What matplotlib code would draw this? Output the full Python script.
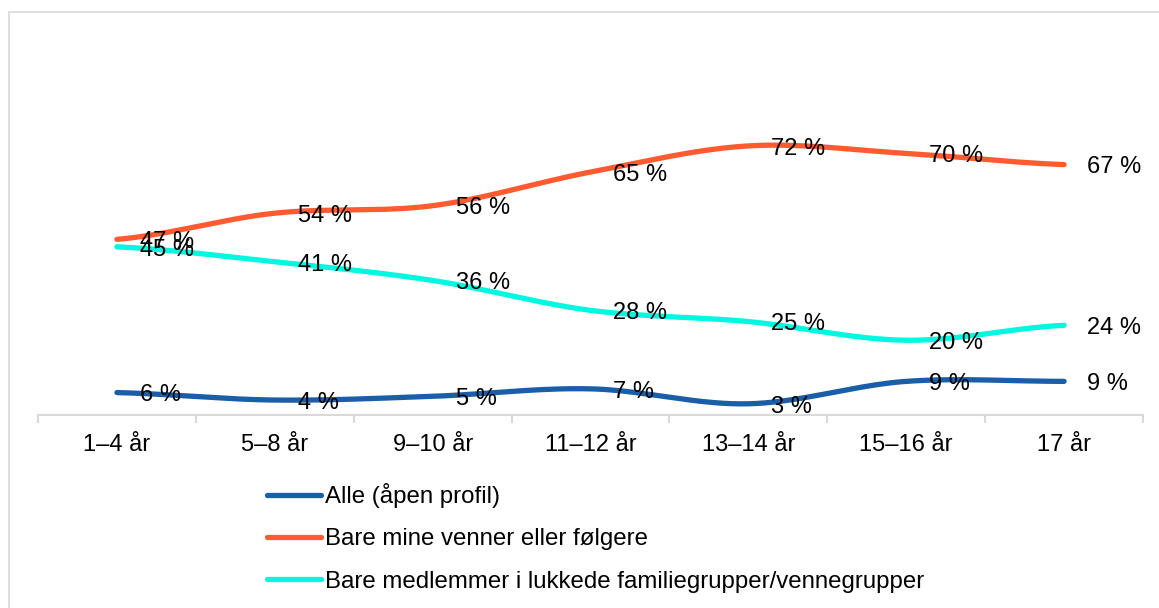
import matplotlib
matplotlib.use("Agg")
import matplotlib.pyplot as plt
import numpy as np
from matplotlib.patches import Rectangle

plt.rcParams['font.family'] = ['Liberation Sans', 'DejaVu Sans']

# Data
categories = ['1–4 år', '5–8 år', '9–10 år', '11–12 år', '13–14 år', '15–16 år', '17 år']
alle = [6, 4, 5, 7, 3, 9, 9]
venner = [47, 54, 56, 65, 72, 70, 67]
grupper = [45, 41, 36, 28, 25, 20, 24]
series_names = ['Alle (åpen profil)', 'Bare mine venner eller følgere',
                'Bare medlemmer i lukkede familiegrupper/vennegrupper']
colors = ['#1a5ea8', '#ff5a30', '#00f7e0']

W, H = 1159, 608
fs = 17
fig = plt.figure(figsize=(W / 100, H / 100), dpi=100)

# light chart border
fig.patches.append(Rectangle((9 / W, -0.1), 1.2, (H - 12) / H + 0.1,
                             transform=fig.transFigure, fill=False,
                             edgecolor='#d9d9d9', linewidth=1.2))

ax = fig.add_axes([38 / W, (H - 415) / H, (1143 - 38) / W, 299 / H])
ax.set_xlim(-0.5, len(categories) - 0.5)
ax.set_ylim(0, 80)


def smooth(xs, ys, n=40):
    # Catmull-Rom style smoothing like Excel's smoothed line
    xs = np.asarray(xs, float)
    ys = np.asarray(ys, float)
    px = np.concatenate([[2 * xs[0] - xs[1]], xs, [2 * xs[-1] - xs[-2]]])
    py = np.concatenate([[ys[0]], ys, [ys[-1]]])
    outx, outy = [], []
    t = np.linspace(0, 1, n)
    for i in range(1, len(px) - 2):
        p0, p1, p2, p3 = py[i - 1], py[i], py[i + 1], py[i + 2]
        q0, q1, q2, q3 = px[i - 1], px[i], px[i + 1], px[i + 2]
        # bezier control points
        c1y = p1 + (p2 - p0) / 6
        c2y = p2 - (p3 - p1) / 6
        c1x = q1 + (q2 - q0) / 6
        c2x = q2 - (q3 - q1) / 6
        bx = (1 - t) ** 3 * q1 + 3 * (1 - t) ** 2 * t * c1x + 3 * (1 - t) * t ** 2 * c2x + t ** 3 * q2
        by = (1 - t) ** 3 * p1 + 3 * (1 - t) ** 2 * t * c1y + 3 * (1 - t) * t ** 2 * c2y + t ** 3 * p2
        outx.extend(bx)
        outy.extend(by)
    return np.array(outx), np.array(outy)


x = np.arange(len(categories))
for vals, name, col in zip([alle, venner, grupper], series_names, colors):
    sx, sy = smooth(x, vals)
    ax.plot(sx, sy, color=col, lw=3.8, solid_capstyle='round', label=name)

for vals in [alle, venner, grupper]:
    for xi, v in zip(x, vals):
        ax.annotate(f'{v} %', (xi, v), xytext=(16.5, -2), textcoords='offset points',
                    ha='left', va='center', fontsize=fs, color='black')

for s in ['top', 'right', 'left']:
    ax.spines[s].set_visible(False)
ax.spines['bottom'].set_color('#d9d9d9')
ax.spines['bottom'].set_linewidth(1.5)
ax.set_yticks([])
ax.set_xticks(x)
ax.set_xticklabels(categories, fontsize=fs)
ax.tick_params(axis='x', which='major', length=0, pad=14)
ax.set_xticks(np.arange(-0.5, len(categories)), minor=True)
ax.tick_params(axis='x', which='minor', length=6, color='#d9d9d9', width=1.5)

fig.legend(loc='upper left', bbox_to_anchor=(267 / W, 1 - 483 / H), frameon=False,
           fontsize=17.3, handlelength=2.25, handletextpad=0.17, labelspacing=0.85,
           borderpad=0, borderaxespad=0)

fig.savefig('out.png', dpi=100, facecolor='white')
